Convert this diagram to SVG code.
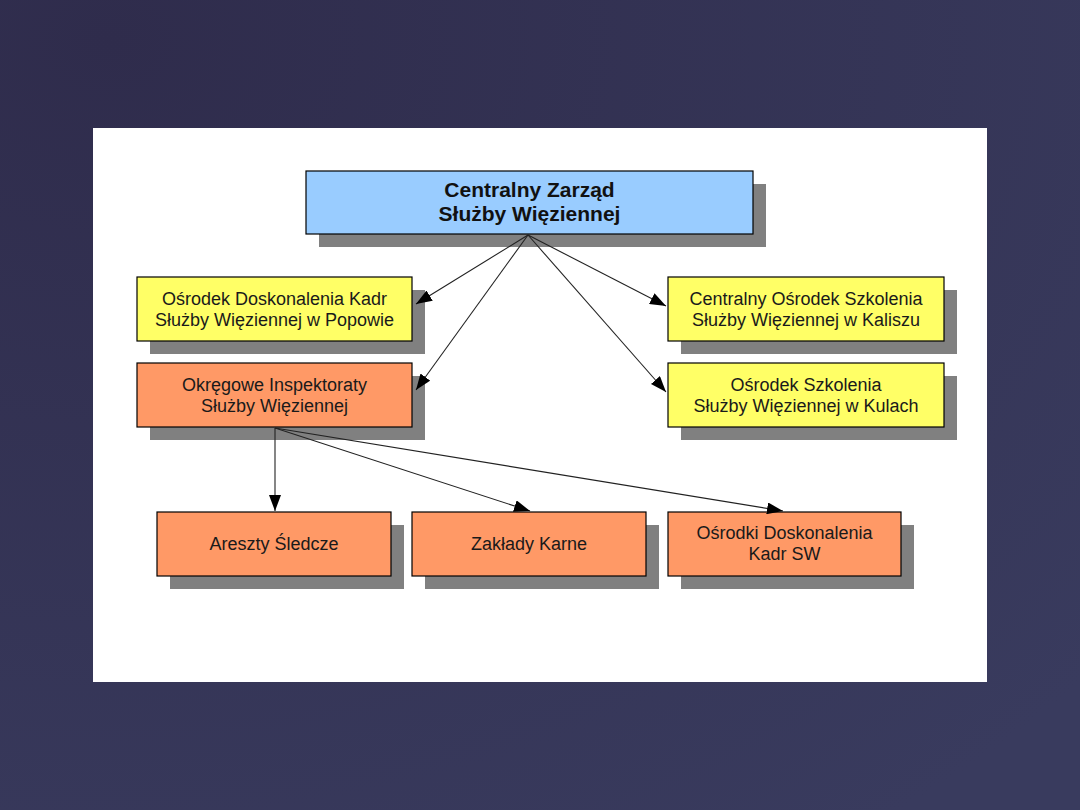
<svg xmlns="http://www.w3.org/2000/svg" width="1080" height="810" viewBox="0 0 1080 810">
<style>
.sh{fill:#808080}
.bx{stroke:#000;stroke-width:1.2}
.t{font-family:"Liberation Sans",Arial,sans-serif;font-size:18px;fill:#1a1a1a;text-anchor:middle}
.tb{font-family:"Liberation Sans",Arial,sans-serif;font-size:21px;font-weight:bold;fill:#111;text-anchor:middle}
.c{stroke:#222;stroke-width:1.1;fill:none;marker-end:url(#ah)}
</style>
<defs>
<marker id="ah" viewBox="0 0 16 12" refX="16" refY="6" markerWidth="16" markerHeight="12" markerUnits="userSpaceOnUse" orient="auto">
<path d="M0,0 L16,6 L0,12 Z" fill="#000"/>
</marker>
<radialGradient id="bg" cx="0.1" cy="0.05" r="1.2">
<stop offset="0" stop-color="#2f2c4c"/>
<stop offset="1" stop-color="#393b5e"/>
</radialGradient>
</defs>
<rect width="1080" height="810" fill="url(#bg)"/>
<rect x="93" y="128" width="894" height="554" fill="#fff"/>
<g id="n-czsw">
<rect class="sh" x="319" y="184" width="447" height="63"/>
<rect class="bx" x="306" y="171" width="447" height="63" fill="#99ccff"/>
<text class="tb" x="529.5" y="197">Centralny Zarząd</text>
<text class="tb" x="529.5" y="221">Służby Więziennej</text>
</g>
<g id="n-popowo">
<rect class="sh" x="150" y="290" width="275" height="64"/>
<rect class="bx" x="137" y="277" width="275" height="64" fill="#ffff66"/>
<text class="t" x="274.5" y="305">Ośrodek Doskonalenia Kadr</text>
<text class="t" x="274.5" y="326">Służby Więziennej w Popowie</text>
</g>
<g id="n-oisw">
<rect class="sh" x="150" y="376" width="275" height="64"/>
<rect class="bx" x="137" y="363" width="275" height="64" fill="#ff9966"/>
<text class="t" x="274.5" y="391">Okręgowe Inspektoraty</text>
<text class="t" x="274.5" y="412">Służby Więziennej</text>
</g>
<g id="n-kalisz">
<rect class="sh" x="681" y="290" width="276" height="64"/>
<rect class="bx" x="668" y="277" width="276" height="64" fill="#ffff66"/>
<text class="t" x="806" y="305">Centralny Ośrodek Szkolenia</text>
<text class="t" x="806" y="326">Służby Więziennej w Kaliszu</text>
</g>
<g id="n-kule">
<rect class="sh" x="681" y="376" width="276" height="64"/>
<rect class="bx" x="668" y="363" width="276" height="64" fill="#ffff66"/>
<text class="t" x="806" y="391">Ośrodek Szkolenia</text>
<text class="t" x="806" y="412">Służby Więziennej w Kulach</text>
</g>
<g id="n-areszty">
<rect class="sh" x="170" y="525" width="234" height="64"/>
<rect class="bx" x="157" y="512" width="234" height="64" fill="#ff9966"/>
<text class="t" x="274" y="550">Areszty Śledcze</text>
</g>
<g id="n-zaklady">
<rect class="sh" x="425" y="525" width="234" height="64"/>
<rect class="bx" x="412" y="512" width="234" height="64" fill="#ff9966"/>
<text class="t" x="529" y="550">Zakłady Karne</text>
</g>
<g id="n-osrodki">
<rect class="sh" x="681" y="525" width="233" height="64"/>
<rect class="bx" x="668" y="512" width="233" height="64" fill="#ff9966"/>
<text class="t" x="784.5" y="539">Ośrodki Doskonalenia</text>
<text class="t" x="784.5" y="560">Kadr SW</text>
</g>
<g id="connectors">
<line class="c" x1="528" y1="235" x2="416" y2="304"/>
<line class="c" x1="528" y1="235" x2="416" y2="390"/>
<line class="c" x1="528" y1="235" x2="666" y2="306"/>
<line class="c" x1="528" y1="235" x2="666" y2="392"/>
<line class="c" x1="275" y1="428" x2="275" y2="511"/>
<line class="c" x1="275" y1="428" x2="530" y2="511"/>
<line class="c" x1="275" y1="428" x2="783" y2="511"/>
</g>
</svg>
